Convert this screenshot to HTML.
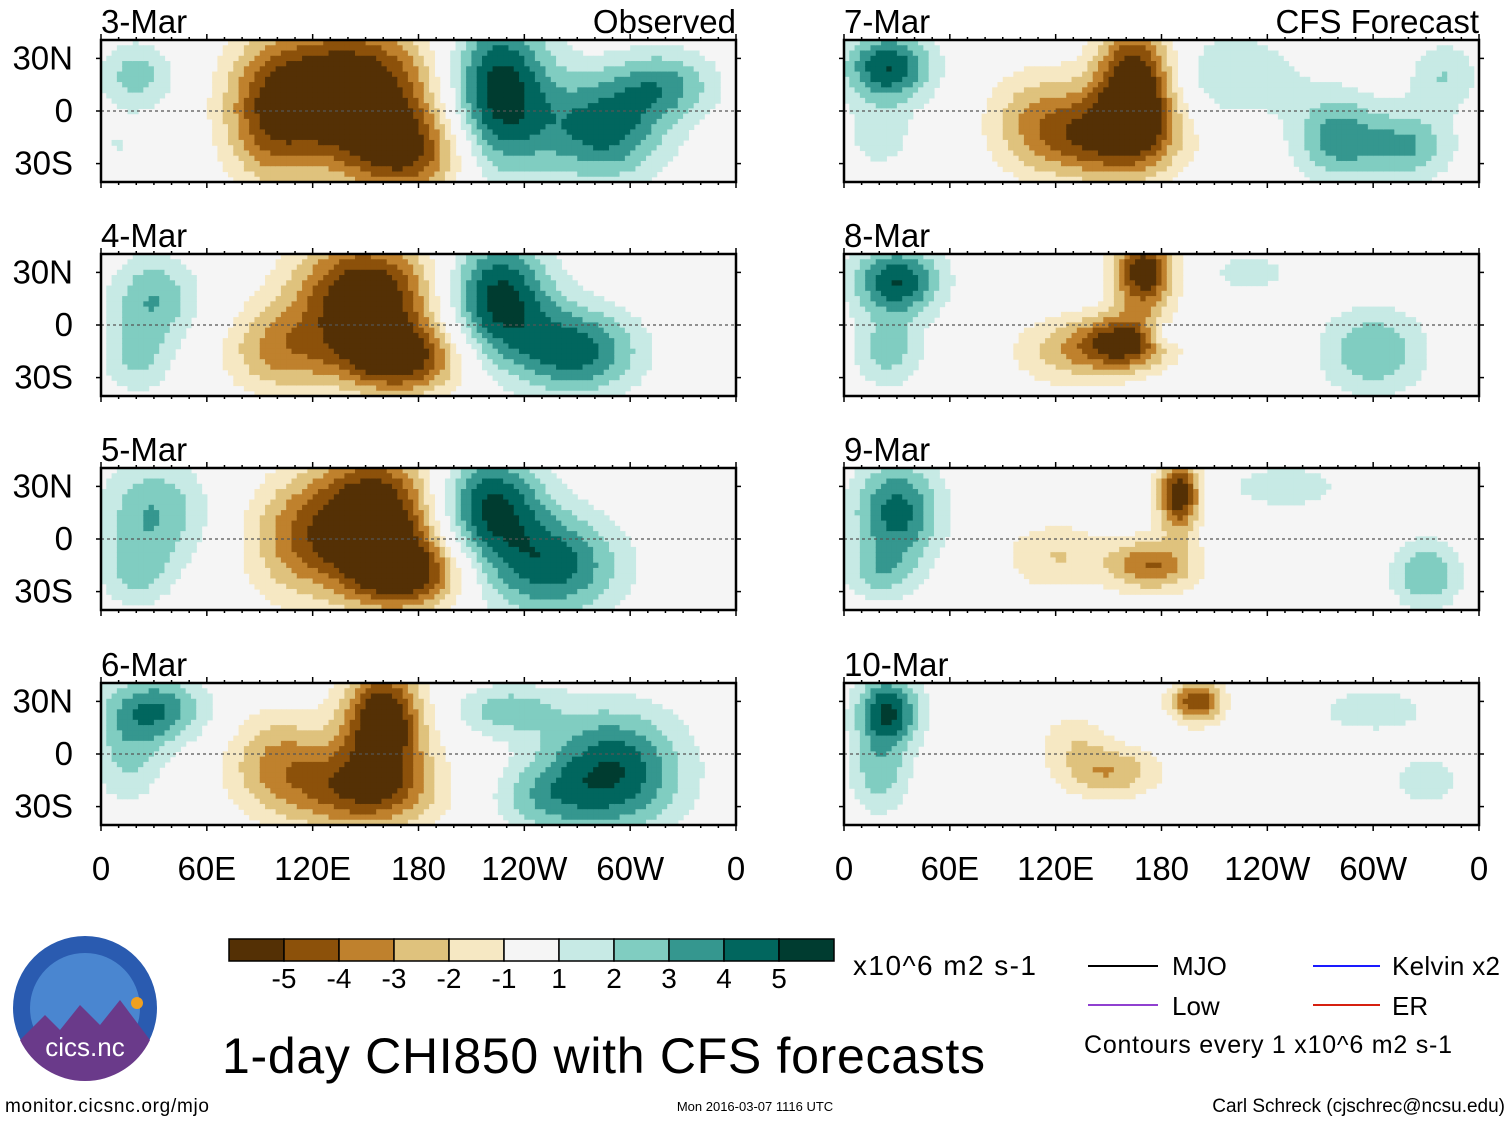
<!DOCTYPE html>
<html><head><meta charset="utf-8"><style>
html,body{margin:0;padding:0;background:#fff;}
svg{display:block;font-family:"Liberation Sans",sans-serif;}
</style></head><body>
<svg id="fig" width="1510" height="1121" viewBox="0 0 1510 1121" xmlns="http://www.w3.org/2000/svg">
<g id="panels"></g>
<g id="cbar"></g>
<text x="853" y="975" font-size="28" textLength="183">x10^6 m2 s-1</text>
<g font-size="26">
<line x1="1088" y1="966" x2="1158" y2="966" stroke="#000" stroke-width="2"/><text x="1172" y="975">MJO</text>
<line x1="1088" y1="1005" x2="1158" y2="1005" stroke="#9040d0" stroke-width="2"/><text x="1172" y="1015">Low</text>
<line x1="1313" y1="966" x2="1380" y2="966" stroke="#1a1aff" stroke-width="2"/><text x="1392" y="975" textLength="108">Kelvin x2</text>
<line x1="1313" y1="1005" x2="1380" y2="1005" stroke="#d62010" stroke-width="2"/><text x="1392" y="1015">ER</text>
<text x="1084" y="1053" font-size="25" textLength="368">Contours every 1 x10^6 m2 s-1</text>
</g>
<text x="222" y="1073" font-size="50" textLength="763">1-day CHI850 with CFS forecasts</text>
<g>
<circle cx="85" cy="1008" r="72" fill="#2a5bb0"/>
<circle cx="85" cy="1008" r="55" fill="#4a86d0"/>
<path d="M20 1040 L45 1015 L60 1030 L80 1005 L100 1025 L120 1000 L150 1040 A72 72 0 0 1 20 1040Z" fill="#6a3a8a"/>
<circle cx="137" cy="1003" r="6" fill="#f0a020"/>
<text x="85" y="1056" font-size="26" fill="#fff" text-anchor="middle">cics.nc</text>
</g>
<text x="5" y="1112" font-size="19" textLength="204">monitor.cicsnc.org/mjo</text>
<text x="755" y="1111" font-size="13" text-anchor="middle">Mon 2016-03-07 1116 UTC</text>
<text x="1505" y="1112" font-size="19" text-anchor="end">Carl Schreck (cjschrec@ncsu.edu)</text>
</svg>
<script>
const panelDates=["3-Mar","4-Mar","5-Mar","6-Mar","7-Mar","8-Mar","9-Mar","10-Mar"];
const levelColors=["#543005","#8c510a","#bf812d","#dfc27d","#f6e8c3","#f5f5f5","#c7eae5","#80cdc1","#35978f","#01665e","#003c30"];
const levelLabels=["-5","-4","-3","-2","-1","1","2","3","4","5"];
const xTickLabels=["0","60E","120E","180","120W","60W","0"];
const yTickLabels=["30N","0","30S"];
// blobs: [lon, lat, lonWidth, latWidth, amplitude]
const blobs0=[[140,10,50,40,-7],[175,-25,35,25,-4],[95,-5,25,40,-3],[225,10,30,45,6],[285,-10,35,30,4.5],[320,15,30,20,3],[20,20,22,20,2.5],[10,-20,15,15,1]];
const blobs1=[[150,15,40,35,-6.5],[170,-20,35,20,-5],[100,-15,30,25,-3],[225,15,30,35,5.5],[270,-15,35,25,4.5],[30,15,25,25,3],[20,-20,20,20,2]];
const blobs2=[[155,10,35,40,-7],[175,-20,30,20,-4.5],[110,0,30,35,-3],[220,20,30,30,5],[255,-15,40,30,4.5],[30,15,30,30,3],[20,-20,20,20,2]];
const blobs3=[[160,20,22,30,-6.5],[150,-20,40,25,-5],[100,-5,30,30,-3],[290,-10,40,35,5],[230,25,30,15,2.5],[30,25,30,20,4],[15,-5,20,25,2],[250,-25,30,20,2]];
const blobs4=[[165,15,22,35,-6.5],[150,-15,40,25,-4.5],[110,-5,30,30,-2.5],[25,25,25,20,5],[280,-15,25,25,3.5],[320,-20,25,20,3],[220,20,40,25,2],[20,-15,20,20,1.5],[340,20,20,20,2]];
const blobs5=[[170,30,17,22,-6],[160,-10,25,15,-5],[130,-15,35,20,-2.5],[30,25,25,20,5],[25,-15,20,20,2.5],[300,-15,30,25,3],[230,30,25,12,1.5],[180,-5,10,8,2]];
const blobs6=[[190,25,12,20,-6],[175,-15,25,15,-4],[120,-10,30,20,-2],[30,15,25,30,4.5],[330,-20,20,20,3],[250,30,30,12,2],[20,-20,20,15,2]];
const blobs7=[[200,30,15,12,-5],[150,-10,30,15,-3],[130,10,20,15,-1.5],[25,25,18,20,5],[20,-10,18,25,2.5],[300,25,30,12,2],[330,-15,20,15,1.8]];
const allBlobs=[blobs0,blobs1,blobs2,blobs3,blobs4,blobs5,blobs6,blobs7];

const NS="http://www.w3.org/2000/svg";
function mk(tag,attrs,parent){const e=document.createElementNS(NS,tag);for(const k in attrs)e.setAttribute(k,attrs[k]);parent.appendChild(e);return e;}
const PW=635, PH=142, rowTops=[40,254,468,683], colLefts=[101,844];
function lvl(v){const t=[-5,-4,-3,-2,-1,1,2,3,4,5];let i=0;while(i<t.length&&v>=t[i])i++;return i;}
const g=document.getElementById('panels');
const D=3;
for(let p=0;p<8;p++){
  const col=p<4?0:1,row=p%4,x0=colLefts[col],y0=rowTops[row];
  const xS=lon=>x0+lon/360*PW, yS=lat=>y0+PH/2-lat/81*PH;
  const pg=mk('g',{},g);
  
  
  mk('rect',{x:x0,y:y0,width:PW,height:PH,fill:'#f5f5f5'},pg);
  const bl=allBlobs[p];
  for(let lon=0;lon<360;lon+=D){for(let lat=40.5;lat>-40.5;lat-=D){
    const cl=lon+D/2,ca=lat-D/2;let v=0;
    for(const b of bl){const dx=(cl-b[0])/b[2],dy=(ca-b[1])/b[3];v+=b[4]*Math.exp(-(dx*dx+dy*dy));}
    const L=lvl(v);if(L===5)continue;
    const r=mk('rect',{x:xS(lon),y:Math.max(y0,yS(lat)),width:PW*D/360+0.6,height:Math.min(PH*D/81+0.6,y0+PH-Math.max(y0,yS(lat))),fill:levelColors[L]},pg);
    
    
  }}
  mk('line',{x1:x0,x2:x0+PW,y1:yS(0),y2:yS(0),stroke:'#555','stroke-dasharray':'3,3','stroke-width':1.2},pg);
  mk('rect',{x:x0,y:y0,width:PW,height:PH,fill:'none',stroke:'#000','stroke-width':2.5},pg);
  for(let i=0;i<=36;i++){const xx=x0+i*PW/36,len=i%6===0?6:3;
    mk('line',{x1:xx,x2:xx,y1:y0,y2:y0-len,stroke:'#000','stroke-width':1.5},pg);
    mk('line',{x1:xx,x2:xx,y1:y0+PH,y2:y0+PH+len,stroke:'#000','stroke-width':1.5},pg);}
  [30,0,-30].forEach(la=>{mk('line',{x1:x0,x2:x0-5,y1:yS(la),y2:yS(la),stroke:'#000','stroke-width':1.5},pg);
    mk('line',{x1:x0+PW,x2:x0+PW+5,y1:yS(la),y2:yS(la),stroke:'#000','stroke-width':1.5},pg);});
  const t=mk('text',{x:x0,y:y0-7,'font-size':33},pg);t.textContent=panelDates[p];
  
  
  if(row===0){const t2=mk('text',{x:x0+PW,y:y0-7,'font-size':33,'text-anchor':'end'},pg);t2.textContent=col===0?'Observed':'CFS Forecast';
    
    }
  if(col===0){[30,0,-30].forEach((la,i)=>{const yt=mk('text',{x:73,y:yS(la)+11,'font-size':33,'text-anchor':'end'},pg);yt.textContent=yTickLabels[i];
    
    });}
  if(row===3){xTickLabels.forEach((s,i)=>{const xt=mk('text',{x:x0+i*PW/6,y:880,'font-size':33,'text-anchor':'middle'},pg);xt.textContent=s;
    
    });}
}
const cb=document.getElementById('cbar');const cw=55;
levelColors.forEach((c,i)=>{const r=mk('rect',{x:229+i*cw,y:939,width:cw,height:22,fill:c,stroke:'#000','stroke-width':1.5},cb);
  
  });
levelLabels.forEach((s,i)=>{const t=mk('text',{x:229+(i+1)*cw,y:988,'font-size':28,'text-anchor':'middle'},cb);t.textContent=s;
  
  });
</script>
</body></html>
